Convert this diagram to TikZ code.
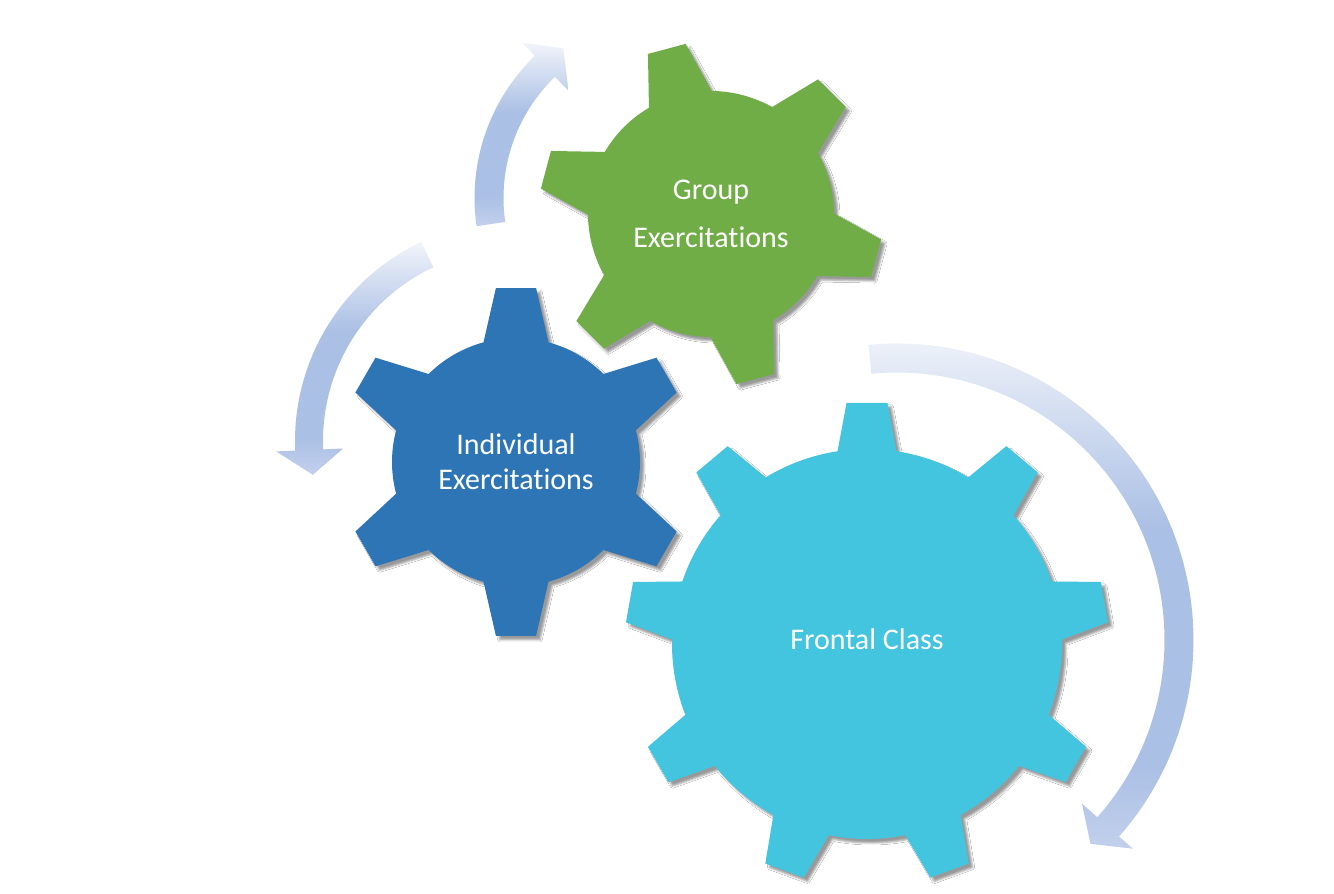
\documentclass[tikz,border=0pt]{standalone}
\usepackage{fontspec}
\setmainfont{Carlito}[Ligatures=NoCommon]
\usetikzlibrary{shadows.blur}
\definecolor{gearGreen}{HTML}{70AD47}
\definecolor{gearBlue}{HTML}{2E75B6}
\definecolor{gearCyan}{HTML}{43C4DF}
\definecolor{arrLight}{HTML}{F1F4FA}
\definecolor{arrBlue}{HTML}{ABC0E5}
\definecolor{arrEnd}{HTML}{C2D0EC}
\pgfdeclareverticalshading{arrowshade}{100bp}{color(0bp)=(arrEnd); color(25bp)=(arrEnd); color(33bp)=(arrBlue); color(56bp)=(arrBlue); color(75bp)=(arrLight); color(100bp)=(arrLight)}
% #1 teeth, #2 first tooth angle, #3 body radius, #4 tip radius, #5 base half-angle, #6 tip half-angle
\newcommand{\gearpath}[6]{%
  ({#2-#5}:#3)
  \foreach \k in {1,...,#1} {
    -- ({#2+(\k-1)*360/#1-#6}:#4)
    -- ({#2+(\k-1)*360/#1+#6}:#4)
    -- ({#2+(\k-1)*360/#1+#5}:#3)
    arc[start angle={#2+(\k-1)*360/#1+#5}, end angle={#2+\k*360/#1-#5}, radius=#3]
  } -- cycle}
\tikzset{
  gearstyle/.style={fill=#1, blur shadow={shadow xshift=4pt, shadow yshift=-4pt, shadow blur radius=2pt, shadow opacity=40}},
  geartext/.style={text=white, align=center, inner sep=0pt},
  arrowshape/.style={shading=arrowshade}
}
\begin{document}
\begin{tikzpicture}[x=1pt, y=1pt]
\useasboundingbox (0,0) rectangle (1334,894);
\fill[white] (0,0) rectangle (1334,894);

% curved arrows
\begin{scope}[shift={(672,696)}]
  \shade[arrowshape] (188.2:197.5) arc[start angle=188.2, end angle=134, radius=197.5]
    -- (134:216) -- (126:185) -- (134:149) -- (134:168.5)
    arc[start angle=134, end angle=188.2, radius=168.5] -- cycle;
\end{scope}
\begin{scope}[shift={(515,453)}]
  \shade[arrowshape] (115.2:220) arc[start angle=115.2, end angle=182.5, radius=220]
    -- (182.5:239) -- (189.5:205) -- (182.5:172) -- (182.5:192)
    arc[start angle=182.5, end angle=115.2, radius=192] -- cycle;
\end{scope}
\begin{scope}[shift={(897,254)}]
  \shade[arrowshape] (95.5:296.5) arc[start angle=95.5, end angle=-41.5, radius=296.5]
    -- (-41.5:315) -- (-46.5:281) -- (-41.5:247) -- (-41.5:267.5)
    arc[start angle=-41.5, end angle=95.5, radius=267.5] -- cycle;
\end{scope}

% gears
\begin{scope}[shift={(711,680)}]
  \path[gearstyle=gearGreen] \gearpath{6}{105}{123}{172}{15.3}{6.5};
  \node[geartext, font=\fontsize{30}{48}\selectfont] (group) at (0,0) {Group\\Exercitations};
\end{scope}
\begin{scope}[shift={(516,432)}]
  \path[gearstyle=gearBlue] \gearpath{6}{90}{124}{175}{15.2}{6.6};
  \node[geartext, font=\fontsize{30}{35}\selectfont] (individual) at (0,0) {Individual\\Exercitations};
\end{scope}
\begin{scope}[shift={(867,250)}]
  \path[gearstyle=gearCyan] \gearpath{9}{90}{195}{242}{8.7}{4.85};
  \node[geartext, font=\fontsize{30}{36}\selectfont] (frontal) at (0,5) {Frontal Class};
\end{scope}
\end{tikzpicture}
\end{document}
